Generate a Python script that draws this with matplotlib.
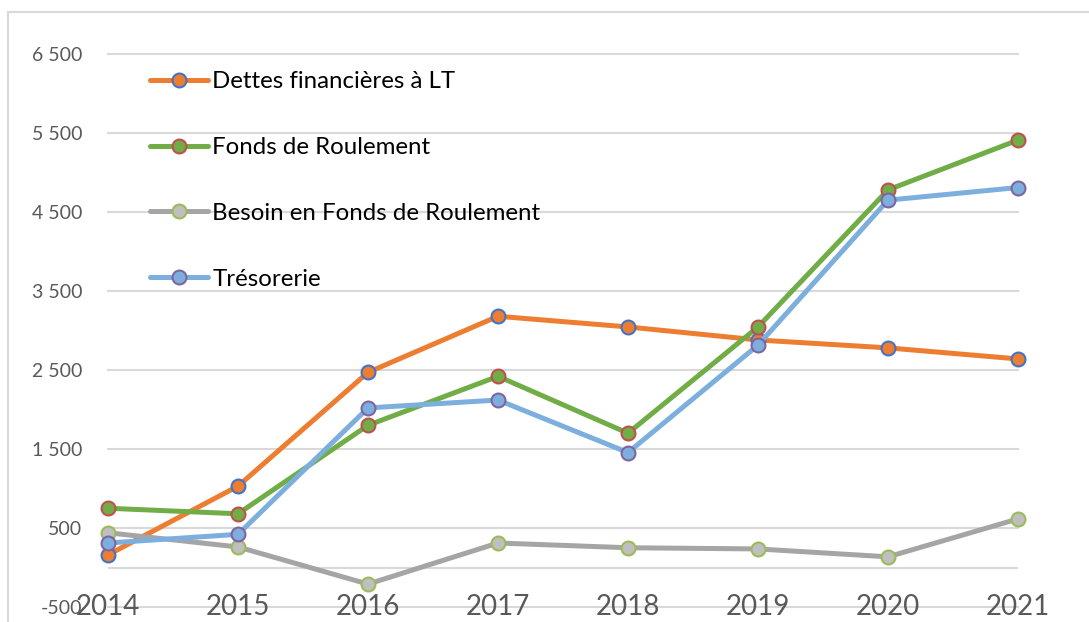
import matplotlib
matplotlib.use("Agg")
import matplotlib.pyplot as plt
from matplotlib.patches import Rectangle

plt.rcParams['font.family'] = ['Lato', 'DejaVu Sans']

years = [2014, 2015, 2016, 2017, 2018, 2019, 2020, 2021]
dettes = [160, 1030, 2470, 3180, 3045, 2880, 2780, 2640]
fonds_roulement = [750, 680, 1800, 2420, 1700, 3045, 4780, 5410]
bfr = [440, 260, -210, 310, 250, 235, 135, 615]
tresorerie = [310, 420, 2020, 2120, 1455, 2815, 4650, 4810]

labels = ["Dettes financières à LT", "Fonds de Roulement",
          "Besoin en Fonds de Roulement", "Trésorerie"]
yticks = [-500, 500, 1500, 2500, 3500, 4500, 5500, 6500]
ytick_labels = ["-500", "500", "1 500", "2 500", "3 500", "4 500", "5 500", "6 500"]

series = [dettes, fonds_roulement, bfr, tresorerie]
line_colors = ["#ED7D31", "#70AD47", "#A5A5A5", "#7CAFDD"]
face_colors = ["#ED7D31", "#70AD47", "#BFBFBF", "#7CAFDD"]
edge_colors = ["#4472C4", "#C0504D", "#9BBB59", "#8064A2"]

fig = plt.figure(figsize=(10.89, 6.22), dpi=100)
W, H = 1089, 622
# chart border
fig.patches.append(Rectangle((8 / W, -0.1), 1.2, (1 - 12 / H) + 0.1,
                             transform=fig.transFigure, fill=False,
                             edgecolor="#D9D9D9", linewidth=1.5))

ax = fig.add_axes([108 / W, 1 - 607 / H, (1018 - 108) / W, (607 - 54) / H])
ax.set_xlim(years[0], years[-1])
ax.set_ylim(-500, 6500)
for s in ax.spines.values():
    s.set_visible(False)

for y in yticks:
    ax.axhline(y, color="#D9D9D9", linewidth=1.5, zorder=0, clip_on=False)
ax.axhline(0, color="#D9D9D9", linewidth=1.5, zorder=0)

for vals, lc, fc, ec, lab in zip(series, line_colors, face_colors, edge_colors, labels):
    ax.plot(years, vals, color=lc, linewidth=3.6, marker='o', markersize=10,
            markerfacecolor=fc, markeredgecolor=ec, markeredgewidth=1.5,
            label=lab, clip_on=False, solid_capstyle='round')

ax.set_yticks(yticks)
ax.set_yticklabels(ytick_labels, fontsize=14, color="#595959")
ax.tick_params(axis='y', length=0, pad=18.5)
ax.set_xticks([])
for yr in years:
    ax.text(yr, -500, str(yr), fontsize=20, color="#595959",
            ha='center', va='center', clip_on=False)

leg = ax.legend(loc='upper left', bbox_to_anchor=(150 / W, 1 - 71 / H),
                bbox_transform=fig.transFigure, frameon=False, fontsize=17.3,
                handlelength=2.4, handletextpad=0.2, labelspacing=1.87,
                borderpad=0, borderaxespad=0)

fig.savefig("out.png", dpi=100)
